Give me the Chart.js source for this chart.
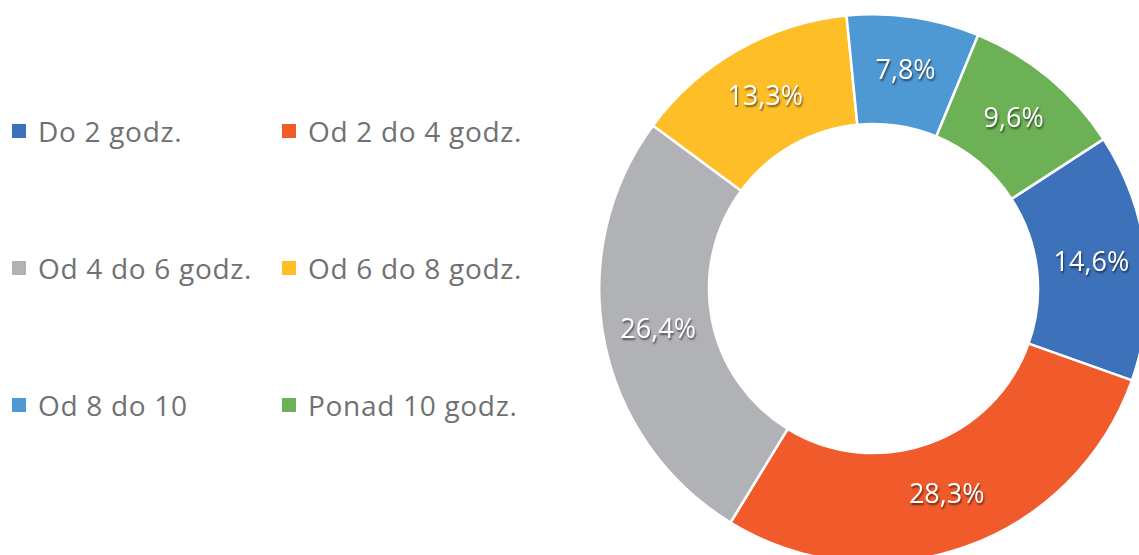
<!DOCTYPE html>
<html>
<head>
<meta charset="utf-8">
<script src="https://cdn.jsdelivr.net/npm/chart.js@4/dist/chart.umd.min.js"></script>
<style>
  html, body { margin: 0; padding: 0; background: #fff; overflow: hidden; }
  body { width: 1139px; height: 555px; position: relative; font-family: "Open Sans", "Noto Sans", sans-serif; }
  #legend { position: absolute; left: 12px; top: 111px; }
  .item { position: absolute; display: flex; align-items: center; white-space: nowrap;
          font-size: 28px; letter-spacing: 0.7px; color: #707174; height: 40px; }
  .box { width: 14px; height: 14px; margin-right: 12px; }
  #wrap { position: absolute; left: 598px; top: 13px; width: 551px; height: 551px; }
</style>
</head>
<body>
<div id="legend"></div>
<div id="wrap"><canvas id="chartEl"></canvas></div>
<script>
const labels = ['Do 2 godz.', 'Od 2 do 4 godz.', 'Od 4 do 6 godz.', 'Od 6 do 8 godz.', 'Od 8 do 10', 'Ponad 10 godz.']
const values = [14.6, 28.3, 26.4, 13.3, 7.8, 9.6]
const colors = ['#3d71ba', '#f15a2b', '#b1b2b5', '#fdbe28', '#4e98d4', '#6cb155']

/* legende en HTML, deux colonnes */
const $legend = document.querySelector('#legend')
labels.forEach((l, i) => {
  let el = document.createElement('div')
  el.className = 'item'
  el.style.left = (i % 2 === 0 ? 0 : 270) + 'px'
  el.style.top = (Math.floor(i / 2) * 137) + 'px'
  el.innerHTML = '<span class="box" style="background:' + colors[i] + '"></span>' + l
  $legend.appendChild(el)
})

/* etiquettes blanches au milieu de chaque part */
const sliceLabels = {
  id: 'sliceLabels',
  afterDatasetsDraw(chart) {
    const ctx = chart.ctx
    const meta = chart.getDatasetMeta(0)
    ctx.save()
    ctx.font = '27px "Open Sans", "Noto Sans", sans-serif'
    ctx.fillStyle = '#fff'
    ctx.textAlign = 'center'
    ctx.textBaseline = 'middle'
    ctx.shadowColor = 'rgba(0,0,0,0.55)'
    ctx.shadowOffsetX = 1
    ctx.shadowOffsetY = 2
    ctx.shadowBlur = 2
    meta.data.forEach((arc, i) => {
      let p = arc.tooltipPosition()
      ctx.fillText(values[i].toFixed(1).replace('.', ',') + '%', p.x, p.y)
    })
    ctx.restore()
  }
}

new Chart(document.querySelector('#chartEl'), {
  type: 'doughnut',
  data: {
    labels: labels,
    datasets: [{
      data: values,
      backgroundColor: colors,
      borderColor: '#fff',
      borderWidth: 2.5
    }]
  },
  options: {
    responsive: true,
    maintainAspectRatio: false,
    animation: false,
    rotation: 57,
    cutout: '60%',
    layout: { padding: 0 },
    plugins: { legend: { display: false }, tooltip: { enabled: false } }
  },
  plugins: [sliceLabels]
})
</script>
</body>
</html>
